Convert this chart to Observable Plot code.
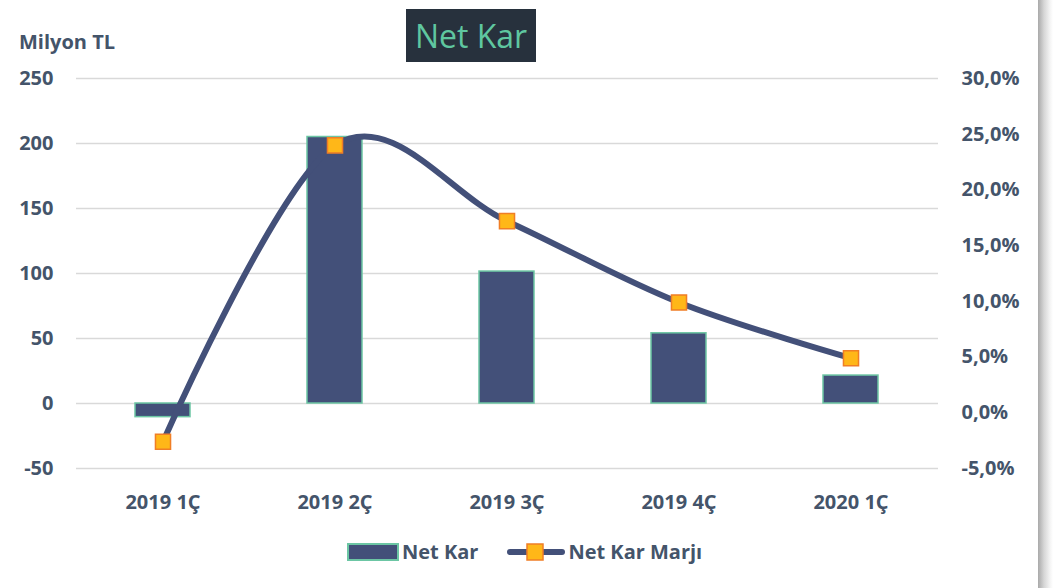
<!DOCTYPE html>
<html>
<head>
<meta charset="utf-8">
<script src="https://cdn.jsdelivr.net/npm/d3@7"></script>
<script src="https://cdn.jsdelivr.net/npm/@observablehq/plot@0.6"></script>
<style>
  html, body { margin: 0; padding: 0; background: #fff; }
  body { width: 1055px; height: 588px; position: relative; overflow: hidden; font-family: "Open Sans", sans-serif; }
  #title { position: absolute; left: 406px; top: 9px; width: 130px; height: 53px; background: #27313d; color: #5fc7a0;
           font-size: 32px; font-weight: 400; line-height: 53px; text-align: center; }
  #unit { position: absolute; left: 19px; top: 28px; font-size: 20px; font-weight: 700; color: #44546a; }
  #chart { position: absolute; left: 0; top: 0; }
  #legend { position: absolute; top: 538px; left: 346px; display: flex; align-items: center; font-size: 20px; font-weight: 700; color: #44546a; }
  #legend .item { display: flex; align-items: center; }
  #shadow { position: absolute; left: 1038px; top: 0; width: 15px; height: 588px;
            background: linear-gradient(to right, #a9a9a9, #d6d6d6 40%, #f4f4f4 80%, #fff); }
</style>
</head>
<body>
<div id="chart"></div>
<div id="title">Net Kar</div>
<div id="unit">Milyon TL</div>
<div id="legend">
  <div class="item">
    <svg width="56" height="24"><rect x="2" y="4" width="50" height="16" fill="#435079" stroke="#6cc6a4" stroke-width="2"/></svg>
    <span>Net Kar</span>
  </div>
  <div class="item" style="margin-left:26px">
    <svg width="64" height="24"><line x1="6" y1="12" x2="58" y2="12" stroke="#435079" stroke-width="6" stroke-linecap="round"/><rect x="23" y="4" width="16" height="16" fill="#ffb718" stroke="#f07e26" stroke-width="1.5"/></svg>
    <span>Net Kar Marjı</span>
  </div>
</div>
<div id="shadow"></div>
<script>
const categories = ["2019 1Ç", "2019 2Ç", "2019 3Ç", "2019 4Ç", "2020 1Ç"];
const netKar = [-10.5, 205, 101.5, 54, 21.5];            // Milyon TL
const netKarMarji = [-2.6, 24.0, 17.2, 9.9, 4.9];        // %
const leftTicks = [-50, 0, 50, 100, 150, 200, 250];
const rightTicks = [-5, 0, 5, 10, 15, 20, 25, 30];

// right axis (-5%..30%) mapped onto left axis (-50..250)
const toLeft = p => -50 + (p + 5) * 300 / 35;

const bars = categories.map((c, i) => ({cat: c, value: netKar[i]}));
const margins = categories.map((c, i) => ({cat: c, value: toLeft(netKarMarji[i])}));

const fmtPct = v => {
  const p = Math.round(((v + 50) * 35 / 300 - 5) * 10) / 10;
  return p.toFixed(1).replace(".", ",") + "%";
};

const chart = Plot.plot({
  width: 1055,
  height: 520,
  marginLeft: 76,
  marginRight: 117,
  marginTop: 78,
  marginBottom: 52,
  style: {fontFamily: "Open Sans, sans-serif", fontSize: "20px", fontWeight: 700, color: "#44546a", background: "transparent"},
  x: {domain: categories, paddingInner: 0.68, paddingOuter: 0.34, label: null},
  y: {domain: [-50, 250], label: null},
  marks: [
    Plot.ruleY(leftTicks, {stroke: "#d9d9d9", strokeWidth: 1.5}),
    Plot.axisY({anchor: "left", ticks: leftTicks, tickFormat: d => String(d), tickSize: 0, tickPadding: 23, label: null, fill: "#44546a"}),
    Plot.axisY({anchor: "right", ticks: rightTicks.map(toLeft), tickFormat: fmtPct, tickSize: 0, tickPadding: 23, textAnchor: "start", label: null, fill: "#44546a"}),
    Plot.axisX({tickSize: 0, tickPadding: 26, label: null, fill: "#44546a"}),
    Plot.barY(bars, {x: "cat", y: "value", fill: "#435079", stroke: "#6cc6a4", strokeWidth: 1.5}),
    Plot.line(margins, {x: "cat", y: "value", curve: "cardinal", stroke: "#435079", strokeWidth: 6}),
    Plot.dot(margins, {x: "cat", y: "value", symbol: "square", r: 8.5, fill: "#ffb718", stroke: "#f07e26", strokeWidth: 1.5})
  ]
});
document.getElementById("chart").appendChild(chart);
</script>
</body>
</html>
